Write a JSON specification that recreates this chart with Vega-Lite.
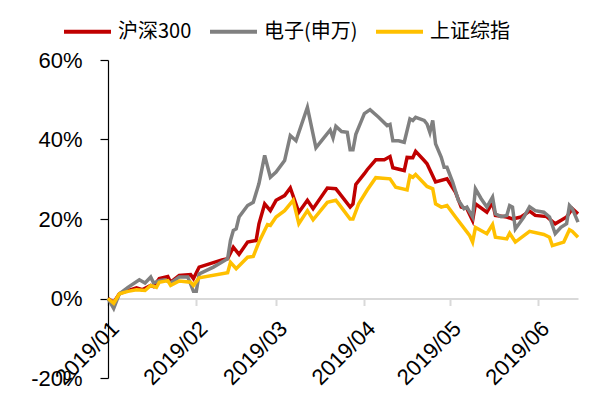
{
  "$schema": "https://vega.github.io/schema/vega-lite/v6.json",
  "width": 470,
  "height": 318,
  "autosize": {"type": "none"},
  "padding": {"left": 108, "top": 60, "right": 16, "bottom": 25},
  "background": "white",
  "config": {
    "view": {"stroke": null},
    "axis": {"labelFont": "Liberation Sans", "labelFontSize": 22, "labelColor": "#000", "grid": false, "title": null}
  },
  "datasets": {
    "d": [
      {"d": "2019/01/01", "s": "沪深300", "v": 0},
      {"d": "2019/01/03", "s": "沪深300", "v": -0.010},
      {"d": "2019/01/05", "s": "沪深300", "v": 0.012},
      {"d": "2019/01/08", "s": "沪深300", "v": 0.020},
      {"d": "2019/01/11", "s": "沪深300", "v": 0.027},
      {"d": "2019/01/13", "s": "沪深300", "v": 0.022},
      {"d": "2019/01/16", "s": "沪深300", "v": 0.033},
      {"d": "2019/01/17", "s": "沪深300", "v": 0.030},
      {"d": "2019/01/19", "s": "沪深300", "v": 0.050},
      {"d": "2019/01/22", "s": "沪深300", "v": 0.055},
      {"d": "2019/01/23", "s": "沪深300", "v": 0.041},
      {"d": "2019/01/26", "s": "沪深300", "v": 0.058},
      {"d": "2019/01/30", "s": "沪深300", "v": 0.060},
      {"d": "2019/01/31", "s": "沪深300", "v": 0.050},
      {"d": "2019/02/02", "s": "沪深300", "v": 0.079},
      {"d": "2019/02/10", "s": "沪深300", "v": 0.097},
      {"d": "2019/02/12", "s": "沪深300", "v": 0.100},
      {"d": "2019/02/14", "s": "沪深300", "v": 0.129},
      {"d": "2019/02/16", "s": "沪深300", "v": 0.111},
      {"d": "2019/02/19", "s": "沪深300", "v": 0.142},
      {"d": "2019/02/22", "s": "沪深300", "v": 0.146},
      {"d": "2019/02/23", "s": "沪深300", "v": 0.188},
      {"d": "2019/02/25", "s": "沪深300", "v": 0.238},
      {"d": "2019/02/27", "s": "沪深300", "v": 0.221},
      {"d": "2019/03/01", "s": "沪深300", "v": 0.247},
      {"d": "2019/03/04", "s": "沪深300", "v": 0.259},
      {"d": "2019/03/06", "s": "沪深300", "v": 0.278},
      {"d": "2019/03/09", "s": "沪深300", "v": 0.217},
      {"d": "2019/03/12", "s": "沪深300", "v": 0.247},
      {"d": "2019/03/14", "s": "沪深300", "v": 0.226},
      {"d": "2019/03/19", "s": "沪深300", "v": 0.278},
      {"d": "2019/03/22", "s": "沪深300", "v": 0.276},
      {"d": "2019/03/23", "s": "沪深300", "v": 0.267},
      {"d": "2019/03/27", "s": "沪深300", "v": 0.230},
      {"d": "2019/03/28", "s": "沪深300", "v": 0.238},
      {"d": "2019/03/29", "s": "沪深300", "v": 0.287},
      {"d": "2019/04/01", "s": "沪深300", "v": 0.314},
      {"d": "2019/04/02", "s": "沪深300", "v": 0.324},
      {"d": "2019/04/05", "s": "沪深300", "v": 0.349},
      {"d": "2019/04/08", "s": "沪深300", "v": 0.349},
      {"d": "2019/04/10", "s": "沪深300", "v": 0.357},
      {"d": "2019/04/11", "s": "沪深300", "v": 0.329},
      {"d": "2019/04/15", "s": "沪深300", "v": 0.322},
      {"d": "2019/04/16", "s": "沪深300", "v": 0.355},
      {"d": "2019/04/18", "s": "沪深300", "v": 0.354},
      {"d": "2019/04/19", "s": "沪深300", "v": 0.370},
      {"d": "2019/04/22", "s": "沪深300", "v": 0.347},
      {"d": "2019/04/23", "s": "沪深300", "v": 0.339},
      {"d": "2019/04/26", "s": "沪深300", "v": 0.293},
      {"d": "2019/04/30", "s": "沪深300", "v": 0.301},
      {"d": "2019/05/03", "s": "沪深300", "v": 0.267},
      {"d": "2019/05/05", "s": "沪深300", "v": 0.230},
      {"d": "2019/05/07", "s": "沪深300", "v": 0.226},
      {"d": "2019/05/09", "s": "沪深300", "v": 0.196},
      {"d": "2019/05/10", "s": "沪深300", "v": 0.238},
      {"d": "2019/05/14", "s": "沪深300", "v": 0.217},
      {"d": "2019/05/16", "s": "沪深300", "v": 0.242},
      {"d": "2019/05/17", "s": "沪深300", "v": 0.209},
      {"d": "2019/05/21", "s": "沪深300", "v": 0.205},
      {"d": "2019/05/23", "s": "沪深300", "v": 0.200},
      {"d": "2019/05/26", "s": "沪深300", "v": 0.205},
      {"d": "2019/05/29", "s": "沪深300", "v": 0.220},
      {"d": "2019/05/31", "s": "沪深300", "v": 0.209},
      {"d": "2019/06/04", "s": "沪深300", "v": 0.206},
      {"d": "2019/06/07", "s": "沪深300", "v": 0.188},
      {"d": "2019/06/11", "s": "沪深300", "v": 0.205},
      {"d": "2019/06/13", "s": "沪深300", "v": 0.226},
      {"d": "2019/06/15", "s": "沪深300", "v": 0.213},

      {"d": "2019/01/01", "s": "电子(申万)", "v": 0},
      {"d": "2019/01/03", "s": "电子(申万)", "v": -0.025},
      {"d": "2019/01/05", "s": "电子(申万)", "v": 0.012},
      {"d": "2019/01/08", "s": "电子(申万)", "v": 0.028},
      {"d": "2019/01/12", "s": "电子(申万)", "v": 0.047},
      {"d": "2019/01/14", "s": "电子(申万)", "v": 0.039},
      {"d": "2019/01/16", "s": "电子(申万)", "v": 0.054},
      {"d": "2019/01/17", "s": "电子(申万)", "v": 0.039},
      {"d": "2019/01/19", "s": "电子(申万)", "v": 0.045},
      {"d": "2019/01/21", "s": "电子(申万)", "v": 0.047},
      {"d": "2019/01/23", "s": "电子(申万)", "v": 0.039},
      {"d": "2019/01/26", "s": "电子(申万)", "v": 0.054},
      {"d": "2019/01/29", "s": "电子(申万)", "v": 0.054},
      {"d": "2019/01/30", "s": "电子(申万)", "v": 0.037},
      {"d": "2019/01/31", "s": "电子(申万)", "v": 0.018},
      {"d": "2019/02/01", "s": "电子(申万)", "v": 0.018},
      {"d": "2019/02/02", "s": "电子(申万)", "v": 0.062},
      {"d": "2019/02/07", "s": "电子(申万)", "v": 0.079},
      {"d": "2019/02/12", "s": "电子(申万)", "v": 0.100},
      {"d": "2019/02/13", "s": "电子(申万)", "v": 0.146},
      {"d": "2019/02/14", "s": "电子(申万)", "v": 0.171},
      {"d": "2019/02/15", "s": "电子(申万)", "v": 0.175},
      {"d": "2019/02/16", "s": "电子(申万)", "v": 0.205},
      {"d": "2019/02/19", "s": "电子(申万)", "v": 0.234},
      {"d": "2019/02/21", "s": "电子(申万)", "v": 0.242},
      {"d": "2019/02/23", "s": "电子(申万)", "v": 0.289},
      {"d": "2019/02/25", "s": "电子(申万)", "v": 0.360},
      {"d": "2019/02/27", "s": "电子(申万)", "v": 0.305},
      {"d": "2019/03/01", "s": "电子(申万)", "v": 0.318},
      {"d": "2019/03/04", "s": "电子(申万)", "v": 0.347},
      {"d": "2019/03/06", "s": "电子(申万)", "v": 0.410},
      {"d": "2019/03/08", "s": "电子(申万)", "v": 0.397},
      {"d": "2019/03/10", "s": "电子(申万)", "v": 0.439},
      {"d": "2019/03/12", "s": "电子(申万)", "v": 0.481},
      {"d": "2019/03/15", "s": "电子(申万)", "v": 0.379},
      {"d": "2019/03/17", "s": "电子(申万)", "v": 0.397},
      {"d": "2019/03/20", "s": "电子(申万)", "v": 0.424},
      {"d": "2019/03/21", "s": "电子(申万)", "v": 0.404},
      {"d": "2019/03/22", "s": "电子(申万)", "v": 0.433},
      {"d": "2019/03/24", "s": "电子(申万)", "v": 0.420},
      {"d": "2019/03/26", "s": "电子(申万)", "v": 0.418},
      {"d": "2019/03/27", "s": "电子(申万)", "v": 0.374},
      {"d": "2019/03/28", "s": "电子(申万)", "v": 0.374},
      {"d": "2019/03/29", "s": "电子(申万)", "v": 0.413},
      {"d": "2019/04/01", "s": "电子(申万)", "v": 0.465},
      {"d": "2019/04/03", "s": "电子(申万)", "v": 0.475},
      {"d": "2019/04/06", "s": "电子(申万)", "v": 0.456},
      {"d": "2019/04/09", "s": "电子(申万)", "v": 0.435},
      {"d": "2019/04/10", "s": "电子(申万)", "v": 0.438},
      {"d": "2019/04/11", "s": "电子(申万)", "v": 0.397},
      {"d": "2019/04/13", "s": "电子(申万)", "v": 0.397},
      {"d": "2019/04/15", "s": "电子(申万)", "v": 0.393},
      {"d": "2019/04/17", "s": "电子(申万)", "v": 0.452},
      {"d": "2019/04/18", "s": "电子(申万)", "v": 0.448},
      {"d": "2019/04/19", "s": "电子(申万)", "v": 0.456},
      {"d": "2019/04/22", "s": "电子(申万)", "v": 0.448},
      {"d": "2019/04/23", "s": "电子(申万)", "v": 0.439},
      {"d": "2019/04/24", "s": "电子(申万)", "v": 0.418},
      {"d": "2019/04/25", "s": "电子(申万)", "v": 0.448},
      {"d": "2019/04/26", "s": "电子(申万)", "v": 0.389},
      {"d": "2019/04/28", "s": "电子(申万)", "v": 0.355},
      {"d": "2019/04/29", "s": "电子(申万)", "v": 0.330},
      {"d": "2019/04/30", "s": "电子(申万)", "v": 0.330},
      {"d": "2019/05/02", "s": "电子(申万)", "v": 0.293},
      {"d": "2019/05/04", "s": "电子(申万)", "v": 0.247},
      {"d": "2019/05/06", "s": "电子(申万)", "v": 0.226},
      {"d": "2019/05/07", "s": "电子(申万)", "v": 0.230},
      {"d": "2019/05/09", "s": "电子(申万)", "v": 0.205},
      {"d": "2019/05/10", "s": "电子(申万)", "v": 0.276},
      {"d": "2019/05/12", "s": "电子(申万)", "v": 0.251},
      {"d": "2019/05/14", "s": "电子(申万)", "v": 0.230},
      {"d": "2019/05/16", "s": "电子(申万)", "v": 0.255},
      {"d": "2019/05/17", "s": "电子(申万)", "v": 0.213},
      {"d": "2019/05/19", "s": "电子(申万)", "v": 0.206},
      {"d": "2019/05/21", "s": "电子(申万)", "v": 0.209},
      {"d": "2019/05/22", "s": "电子(申万)", "v": 0.234},
      {"d": "2019/05/23", "s": "电子(申万)", "v": 0.230},
      {"d": "2019/05/24", "s": "电子(申万)", "v": 0.175},
      {"d": "2019/05/27", "s": "电子(申万)", "v": 0.205},
      {"d": "2019/05/29", "s": "电子(申万)", "v": 0.231},
      {"d": "2019/05/31", "s": "电子(申万)", "v": 0.221},
      {"d": "2019/06/03", "s": "电子(申万)", "v": 0.217},
      {"d": "2019/06/05", "s": "电子(申万)", "v": 0.205},
      {"d": "2019/06/07", "s": "电子(申万)", "v": 0.163},
      {"d": "2019/06/09", "s": "电子(申万)", "v": 0.179},
      {"d": "2019/06/11", "s": "电子(申万)", "v": 0.188},
      {"d": "2019/06/12", "s": "电子(申万)", "v": 0.234},
      {"d": "2019/06/13", "s": "电子(申万)", "v": 0.226},
      {"d": "2019/06/15", "s": "电子(申万)", "v": 0.192},

      {"d": "2019/01/01", "s": "上证综指", "v": 0},
      {"d": "2019/01/03", "s": "上证综指", "v": -0.012},
      {"d": "2019/01/05", "s": "上证综指", "v": 0.012},
      {"d": "2019/01/08", "s": "上证综指", "v": 0.018},
      {"d": "2019/01/11", "s": "上证综指", "v": 0.022},
      {"d": "2019/01/14", "s": "上证综指", "v": 0.020},
      {"d": "2019/01/16", "s": "上证综指", "v": 0.033},
      {"d": "2019/01/18", "s": "上证综指", "v": 0.028},
      {"d": "2019/01/19", "s": "上证综指", "v": 0.041},
      {"d": "2019/01/22", "s": "上证综指", "v": 0.045},
      {"d": "2019/01/23", "s": "上证综指", "v": 0.033},
      {"d": "2019/01/26", "s": "上证综指", "v": 0.044},
      {"d": "2019/01/30", "s": "上证综指", "v": 0.041},
      {"d": "2019/01/31", "s": "上证综指", "v": 0.033},
      {"d": "2019/02/02", "s": "上证综指", "v": 0.052},
      {"d": "2019/02/12", "s": "上证综指", "v": 0.065},
      {"d": "2019/02/13", "s": "上证综指", "v": 0.091},
      {"d": "2019/02/15", "s": "上证综指", "v": 0.075},
      {"d": "2019/02/19", "s": "上证综指", "v": 0.104},
      {"d": "2019/02/21", "s": "上证综指", "v": 0.106},
      {"d": "2019/02/23", "s": "上证综指", "v": 0.142},
      {"d": "2019/02/26", "s": "上证综指", "v": 0.186},
      {"d": "2019/02/27", "s": "上证综指", "v": 0.184},
      {"d": "2019/03/01", "s": "上证综指", "v": 0.205},
      {"d": "2019/03/04", "s": "上证综指", "v": 0.221},
      {"d": "2019/03/07", "s": "上证综指", "v": 0.247},
      {"d": "2019/03/09", "s": "上证综指", "v": 0.188},
      {"d": "2019/03/12", "s": "上证综指", "v": 0.221},
      {"d": "2019/03/14", "s": "上证综指", "v": 0.198},
      {"d": "2019/03/19", "s": "上证综指", "v": 0.242},
      {"d": "2019/03/22", "s": "上证综指", "v": 0.247},
      {"d": "2019/03/23", "s": "上证综指", "v": 0.238},
      {"d": "2019/03/27", "s": "上证综指", "v": 0.200},
      {"d": "2019/03/28", "s": "上证综指", "v": 0.200},
      {"d": "2019/03/30", "s": "上证综指", "v": 0.238},
      {"d": "2019/04/02", "s": "上证综指", "v": 0.273},
      {"d": "2019/04/05", "s": "上证综指", "v": 0.304},
      {"d": "2019/04/10", "s": "上证综指", "v": 0.301},
      {"d": "2019/04/12", "s": "上证综指", "v": 0.280},
      {"d": "2019/04/16", "s": "上证综指", "v": 0.273},
      {"d": "2019/04/17", "s": "上证综指", "v": 0.309},
      {"d": "2019/04/18", "s": "上证综指", "v": 0.305},
      {"d": "2019/04/19", "s": "上证综指", "v": 0.312},
      {"d": "2019/04/23", "s": "上证综指", "v": 0.282},
      {"d": "2019/04/25", "s": "上证综指", "v": 0.276},
      {"d": "2019/04/26", "s": "上证综指", "v": 0.238},
      {"d": "2019/04/28", "s": "上证综指", "v": 0.230},
      {"d": "2019/04/30", "s": "上证综指", "v": 0.234},
      {"d": "2019/05/03", "s": "上证综指", "v": 0.205},
      {"d": "2019/05/08", "s": "上证综指", "v": 0.158},
      {"d": "2019/05/09", "s": "上证综指", "v": 0.142},
      {"d": "2019/05/10", "s": "上证综指", "v": 0.179},
      {"d": "2019/05/14", "s": "上证综指", "v": 0.163},
      {"d": "2019/05/16", "s": "上证综指", "v": 0.186},
      {"d": "2019/05/17", "s": "上证综指", "v": 0.154},
      {"d": "2019/05/21", "s": "上证综指", "v": 0.150},
      {"d": "2019/05/22", "s": "上证综指", "v": 0.164},
      {"d": "2019/05/24", "s": "上证综指", "v": 0.142},
      {"d": "2019/05/29", "s": "上证综指", "v": 0.169},
      {"d": "2019/06/03", "s": "上证综指", "v": 0.161},
      {"d": "2019/06/05", "s": "上证综指", "v": 0.154},
      {"d": "2019/06/06", "s": "上证综指", "v": 0.133},
      {"d": "2019/06/10", "s": "上证综指", "v": 0.142},
      {"d": "2019/06/12", "s": "上证综指", "v": 0.173},
      {"d": "2019/06/13", "s": "上证综指", "v": 0.169},
      {"d": "2019/06/15", "s": "上证综指", "v": 0.154}
    ]
  },
  "data": {"name": "d"},
  "encoding": {
    "x": {
      "field": "d", "type": "temporal",
      "scale": {"domain": [{"year": 2019, "month": 1, "date": 1}, {"year": 2019, "month": 6, "date": 15}]},
      "axis": {
        "format": "%Y/%m",
        "tickCount": {"interval": "month", "step": 1},
        "labelAngle": -45,
        "labelOverlap": false,
        "labelFlush": false,
        "labelPadding": 12,
        "domainColor": "#d9d9d9",
        "domainWidth": 2,
        "tickColor": "#d9d9d9",
        "tickWidth": 2,
        "tickSize": 7,
        "offset": {"expr": "scale('y', 0) - height"}
      }
    },
    "y": {
      "field": "v", "type": "quantitative",
      "scale": {"domain": [-0.2, 0.6], "nice": false, "zero": false},
      "axis": {
        "values": [-0.2, 0, 0.2, 0.4, 0.6],
        "format": ".0%",
        "labelExpr": "replace(datum.label, '\u2212', '-')",
        "domainColor": "#000",
        "domainWidth": 1.2,
        "tickColor": "#000",
        "tickWidth": 1.2,
        "tickSize": 8,
        "labelPadding": 18
      }
    },
    "color": {
      "field": "s", "type": "nominal",
      "scale": {"domain": ["沪深300", "电子(申万)", "上证综指"], "range": ["#C00000", "#808080", "#FFC000"]},
      "legend": {
        "orient": "none",
        "legendX": -46,
        "legendY": -54,
        "direction": "horizontal",
        "title": null,
        "symbolType": "stroke",
        "symbolSize": 2209,
        "symbolStrokeWidth": 4,
        "labelFont": "Noto Sans CJK SC",
        "labelFontSize": 20,
        "labelColor": "#000",
        "labelOffset": 5,
        "columnPadding": 10,
        "padding": 0
      }
    }
  },
  "layer": [
    {"transform": [{"filter": "datum.s === '沪深300'"}], "mark": {"type": "line", "strokeWidth": 3.5}},
    {"transform": [{"filter": "datum.s === '电子(申万)'"}], "mark": {"type": "line", "strokeWidth": 3.5}},
    {"transform": [{"filter": "datum.s === '上证综指'"}], "mark": {"type": "line", "strokeWidth": 3.5}}
  ]
}
